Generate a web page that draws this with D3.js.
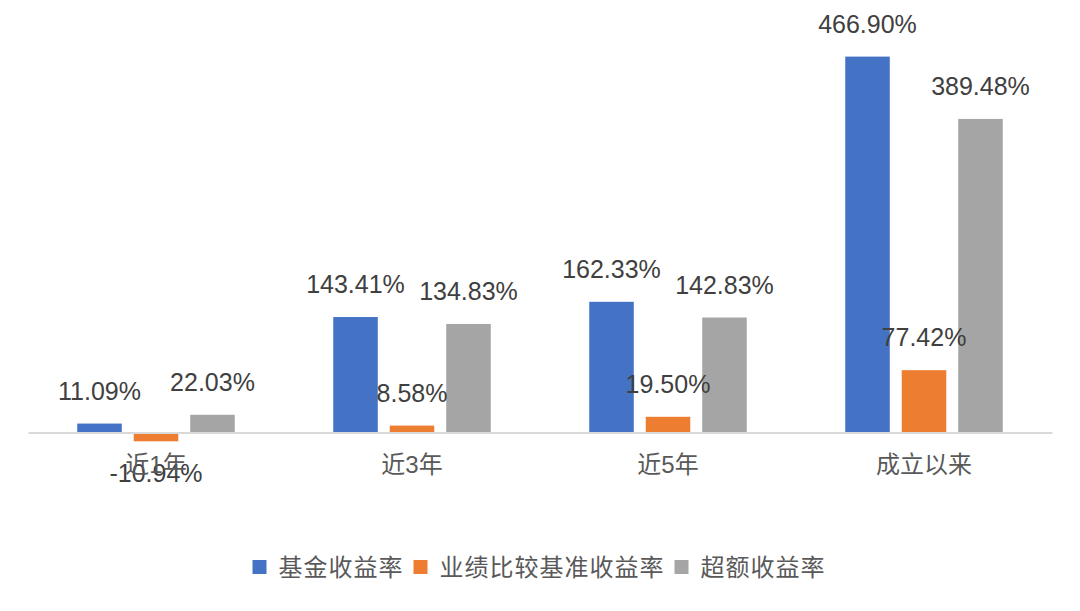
<!DOCTYPE html>
<html>
<head>
<meta charset="utf-8">
<script src="https://cdn.jsdelivr.net/npm/d3@7"></script>
<style>
  html, body { margin: 0; padding: 0; background: #fff; }
  svg { display: block; }
</style>
</head>
<body>
<svg id="chart" width="1080" height="611"></svg>
<script>
const categories = ["近1年", "近3年", "近5年", "成立以来"];
const seriesNames = ["基金收益率", "业绩比较基准收益率", "超额收益率"];
const fundReturn = [11.09, 143.41, 162.33, 466.90];
const benchmarkReturn = [-10.94, 8.58, 19.50, 77.42];
const excessReturn = [22.03, 134.83, 142.83, 389.48];
const seriesColors = ["#4472C4", "#ED7D31", "#A5A5A5"];

const seriesValues = [fundReturn, benchmarkReturn, excessReturn];
const data = categories.map((c, i) => ({
  category: c,
  values: seriesNames.map((s, j) => ({ series: s, idx: j, value: seriesValues[j][i] }))
}));

const svg = d3.select("#chart");
const numFont = "'Liberation Sans', Arial, sans-serif";
const cjkFont = "'Liberation Sans', 'Noto Sans CJK SC', sans-serif";

const x0 = d3.scaleBand().domain(categories).range([28, 1052]).padding(0);
const x1 = d3.scaleBand().domain(seriesNames).range([0, x0.bandwidth()])
  .paddingInner(0.212).paddingOuter(0.872);
const y = d3.scaleLinear().domain([0, 466.90]).range([432.5, 56.6]);

// bars
const groups = svg.append("g").selectAll("g")
  .data(data).join("g")
  .attr("transform", d => `translate(${x0(d.category)},0)`);

groups.selectAll("rect")
  .data(d => d.values).join("rect")
  .attr("x", d => x1(d.series))
  .attr("width", x1.bandwidth())
  .attr("y", d => y(Math.max(0, d.value)))
  .attr("height", d => Math.abs(y(d.value) - y(0)))
  .attr("fill", d => seriesColors[d.idx]);

// axis line (category axis at zero)
const xAxis = d3.axisBottom(x0).tickSize(0).tickPadding(0).tickFormat("");
const axisG = svg.append("g").attr("transform", `translate(0,${y(0)})`).call(xAxis);
axisG.select(".domain").attr("stroke", "#D9D9D9").attr("stroke-width", 2);

// category labels
svg.append("g").selectAll("text")
  .data(categories).join("text")
  .attr("x", d => x0(d) + x0.bandwidth() / 2)
  .attr("y", 464)
  .attr("text-anchor", "middle")
  .attr("dominant-baseline", "central")
  .attr("font-family", cjkFont)
  .attr("font-size", 24)
  .attr("fill", "#595959")
  .text(d => d);

// value labels
groups.selectAll("text.val")
  .data(d => d.values).join("text")
  .attr("class", "val")
  .attr("x", d => x1(d.series) + x1.bandwidth() / 2)
  .attr("y", d => d.value >= 0 ? y(d.value) - 24 : y(d.value) + 41)
  .attr("text-anchor", "middle")
  .attr("font-family", numFont)
  .attr("font-size", 25)
  .attr("fill", "#404040")
  .text(d => d.value.toFixed(2) + "%");

// legend
const legend = svg.append("g");
let cx = 0;
seriesNames.forEach((s, i) => {
  const g = legend.append("g");
  g.append("rect").attr("x", cx).attr("y", 560).attr("width", 14).attr("height", 14)
    .attr("fill", seriesColors[i]);
  const t = g.append("text").attr("x", cx + 26).attr("y", 567)
    .attr("dominant-baseline", "central")
    .attr("font-family", cjkFont).attr("font-size", 24)
    .attr("letter-spacing", 1)
    .attr("fill", "#595959").text(s);
  const w = t.node().getComputedTextLength();
  cx += 26 + w + 10;
});
const totalW = cx - 10;
legend.attr("transform", `translate(${539 - totalW / 2},0)`);
</script>
</body>
</html>
